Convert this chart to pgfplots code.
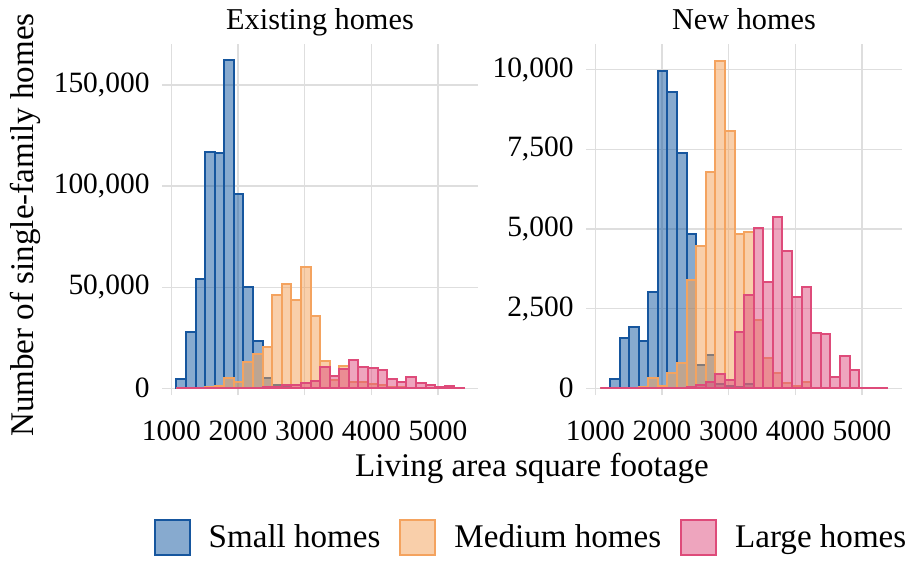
\documentclass[border=0pt]{standalone}
\usepackage{fontspec}
\setmainfont{Liberation Serif}
\usepackage{pgfplots}
\usepackage{pgfplotstable}
\pgfplotsset{compat=1.18}

\definecolor{smallline}{RGB}{22,86,158}
\definecolor{smallfill}{RGB}{15,85,160}
\definecolor{medline}{RGB}{244,163,95}
\definecolor{medfill}{RGB}{243,160,85}
\definecolor{largeline}{RGB}{222,75,122}
\definecolor{largefill}{RGB}{222,75,125}
\definecolor{gridgray}{RGB}{222,222,222}

% Histogram counts: left bin edges (30 bins of ~144 sq ft), last row closes the final bin
\pgfplotstableread{
x      small   medium  large
1075   4450    0       0
1219   27700   0       0
1363   54000   200     0
1506   116700  800     0
1650   116200  1100    0
1794   162400  5300    0
1938   96100   3300    0
2082   50300   13200   200
2225   23600   17150   300
2369   5000    20300   500
2513   1500    46200   700
2657   700     51600   1800
2801   300     43500   1600
2944   200     60200   2500
3088   100     35600   3800
3232   100     13500   10700
3376   0       4100    6100
3520   0       11000   9400
3663   0       3300    14000
3807   0       3300    10500
3951   0       2000    10000
4095   0       1500    8900
4239   0       800     4800
4382   0       500     3300
4526   0       300     5800
4670   0       200     2500
4814   0       100     1500
4958   0       0       660
5101   0       0       1000
5245   0       0       300
5389   0       0       0
}\existing

\pgfplotstableread{
x      small   medium  large
1075   0       0       0
1219   300     0       0
1363   1570    0       0
1506   1935    0       0
1650   1475    50      0
1794   3013    335     0
1938   9958    73      0
2082   9289    490     0
2225   7375    785     0
2369   4833    3400    50
2513   730     4477    105
2657   1056    6799    209
2801   125     10282   440
2944   60      8075    260
3088   30      4833    1757
3232   125     4916    2929
3376   0       2144    5042
3520   0       941     3347
3663   0       470     5387
3807   0       157     4310
3951   0       60      2877
4095   0       209     3190
4239   0       0       1726
4382   0       0       1705
4526   0       0       345
4670   0       0       1015
4814   0       0       575
4958   0       0       0
5101   0       0       0
5245   0       0       0
5389   0       0       0
}\newhomes

\pgfplotsset{
  panel/.style={
    scale only axis,
    width=158bp, height=175.5bp,
    xmin=860, xmax=5600,
    axis line style={draw=none},
    tick style={draw=none},
    grid=major,
    major grid style={gridgray, line width=0.65bp},
    scaled ticks=false,
    xtick={1000,2000,3000,4000,5000},
    xticklabels={1000,2000,3000,4000,5000},
    xticklabel style={anchor=base, inner sep=0pt, yshift=-22.5bp},
    yticklabel style={anchor=east, inner sep=0pt, xshift=-6bp},
    ticklabel style={font=\fontsize{14.8}{17.8}\selectfont},
    every axis title shift=0pt,
    title style={font=\fontsize{15.2}{18.2}\selectfont, at={(0.5,1)}, anchor=base, yshift=7.3bp},
  },
  hbar/.style={
    ybar interval, draw=#1line, fill=#1fill, fill opacity=0.5,
    line width=1bp,
    legend image code/.code={
      \draw[draw=#1line, fill=#1fill, fill opacity=0.5, line width=1bp]
        (0bp,-8.75bp) rectangle (17.5bp,8.75bp);
    },
  },
}

\begin{document}
\begin{tikzpicture}
% page frame with the figure margins
\useasboundingbox (-81bp,-83bp) rectangle (377bp,197.5bp);

\begin{axis}[panel,
  at={(0,0)}, anchor=south west,
  ymin=-3300, ymax=170300,
  ytick={0,50000,100000,150000},
  yticklabels={0,{50,000},{100,000},{150,000}},
  title={Existing homes},
  legend columns=3,
  legend style={
    draw=none, fill=none,
    at={(axis description cs:1.1709,-0.406)}, anchor=center,
    font=\fontsize{16.6}{19.9}\selectfont,
    /tikz/every odd column/.append style={column sep=7bp},
    /tikz/every even column/.append style={column sep=7.5bp},
  },
]
\addplot[hbar=small] table[x=x, y=small] {\existing};
\addlegendentry{Small homes}
\addplot[hbar=med] table[x=x, y=medium] {\existing};
\addlegendentry{Medium homes}
\addplot[hbar=large] table[x=x, y=large] {\existing};
\addlegendentry{Large homes}
\end{axis}

\begin{axis}[panel,
  at={(212bp,0)}, anchor=south west,
  ymin=-210, ymax=10800,
  ytick={0,2500,5000,7500,10000},
  yticklabels={0,{2,500},{5,000},{7,500},{10,000}},
  title={New homes},
]
\addplot[hbar=small] table[x=x, y=small] {\newhomes};
\addplot[hbar=med] table[x=x, y=medium] {\newhomes};
\addplot[hbar=large] table[x=x, y=large] {\newhomes};
\end{axis}

\node[rotate=90, anchor=base, font=\fontsize{16.6}{19.9}\selectfont]
  at (-64bp,85bp) {Number of single-family homes};
\node[anchor=base, font=\fontsize{16.6}{19.9}\selectfont]
  at (185bp,-40.5bp) {Living area square footage};
\end{tikzpicture}
\end{document}
